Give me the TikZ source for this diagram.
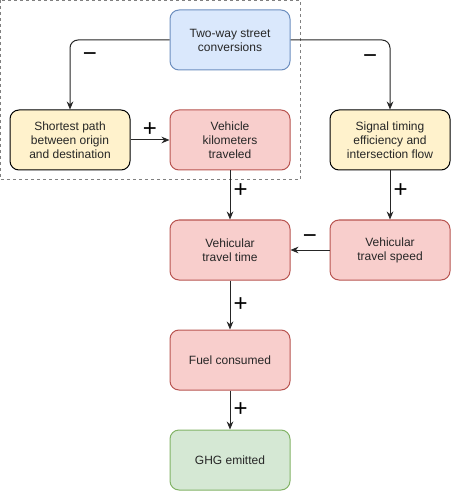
\documentclass[tikz,border=0pt]{standalone}
\usepackage{fontspec}
\setmainfont{Liberation Sans}
\usetikzlibrary{arrows.meta}
\definecolor{blueFill}{HTML}{DAE8FC}
\definecolor{blueLine}{HTML}{6C8EBF}
\definecolor{yellowFill}{HTML}{FFF2CC}
\definecolor{redFill}{HTML}{F8CECC}
\definecolor{redLine}{HTML}{B85450}
\definecolor{greenFill}{HTML}{D5E8D4}
\definecolor{greenLine}{HTML}{82B366}
\tikzset{ box/.style = { rectangle % factor
        , rounded corners = 6.75pt
        , minimum width = 90pt
        , minimum height = 45pt
        , align = center
        , text = black!85
        , font = \fontsize{9}{10.5}\selectfont
        }
        , sign/.style = { rectangle % polarity
        , inner sep = 0pt
        , font = \fontsize{18}{18}\selectfont
        }
        }

\begin{document}
\begin{tikzpicture}[x=0.75pt, y=-0.75pt, line width=0.75pt,
        policy_style/.style={box,draw=blueLine,fill=blueFill},
        factor_style/.style={box,draw=black,fill=yellowFill},
        effect_style/.style={box,draw=redLine,fill=redFill},
        outcome_style/.style={box,draw=greenLine,fill=greenFill},
        edge_style/.style={draw=black!85, rounded corners=6pt, -{Stealth[length=6pt,width=5pt]}},
        group_style/.style={draw=black!50, dash pattern=on 2.25pt off 2.25pt}]
        \useasboundingbox (0,0) rectangle (451,491);
        \draw [group_style] (0.5,0.5) rectangle (300,180);

        \node [policy_style](n1) at (230,40) {Two-way street\\conversions};
        \node [factor_style](n2) at (70,140) {Shortest path\\between origin\\and destination};
        \node [effect_style](n3) at (230,140) {Vehicle\\kilometers\\traveled};
        \node [factor_style](n4) at (390,140) {Signal timing\\efficiency and\\intersection flow};
        \node [effect_style](n5) at (230,250) {Vehicular\\travel time};
        \node [effect_style](n6) at (390,250) {Vehicular\\travel speed};
        \node [effect_style](n7) at (230,360) {Fuel consumed};
        \node [outcome_style](n8) at (230,460) {GHG emitted};

        \draw [edge_style] (n1.west) -| node [sign,pos=0.62,xshift=15pt] {−} (n2.north);
        \draw [edge_style] (n1.east) -| node [sign,pos=0.64,xshift=-15pt] {−} (n4.north);
        \draw [edge_style] (n2) -- node [sign,midway,yshift=8pt] {+} (n3);
        \draw [edge_style] (n3) -- node [sign,pos=0.4,xshift=8pt] {+} (n5);
        \draw [edge_style] (n4) -- node [sign,pos=0.4,xshift=8pt] {+} (n6);
        \draw [edge_style] (n6) -- node [sign,midway,yshift=8pt] {−} (n5);
        \draw [edge_style] (n5) -- node [sign,midway,xshift=8pt] {+} (n7);
        \draw [edge_style] (n7) -- node [sign,pos=0.5,xshift=8pt] {+} (n8);
\end{tikzpicture}
\end{document}
